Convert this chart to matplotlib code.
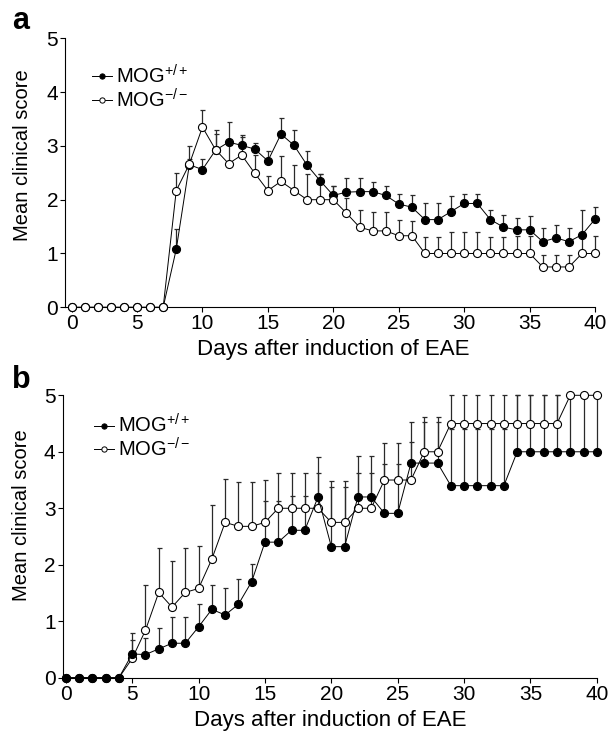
import numpy as np
import matplotlib
matplotlib.use("Agg")
import matplotlib.pyplot as plt
from matplotlib.lines import Line2D

plt.rcParams['font.family'] = ['Liberation Sans', 'DejaVu Sans']
plt.rcParams['mathtext.fontset'] = 'custom'
plt.rcParams['mathtext.rm'] = 'Liberation Sans'
plt.rcParams['mathtext.it'] = 'Liberation Sans:italic'
plt.rcParams['mathtext.bf'] = 'Liberation Sans:bold'

# ---------------- data ----------------
days = list(range(0, 41))

# Panel a
wt_a = [0, 0, 0, 0, 0, 0, 0, 0, 1.08, 2.65, 2.56, 2.92, 3.07, 3.01, 2.94, 2.72,
        3.22, 3.01, 2.64, 2.35, 2.08, 2.14, 2.15, 2.15, 2.08, 1.92, 1.86, 1.63,
        1.63, 1.78, 1.93, 1.93, 1.63, 1.49, 1.44, 1.44, 1.22, 1.29, 1.22, 1.35, 1.64]
wt_a_err = [0, 0, 0, 0, 0, 0, 0, 0, 0.38, 0.10, 0.20, 0.30, 0.37, 0.20, 0.12, 0.19,
            0.30, 0.28, 0.27, 0.13, 0.18, 0.26, 0.25, 0.17, 0.18, 0.18, 0.23, 0.31,
            0.31, 0.28, 0.17, 0.17, 0.17, 0.23, 0.22, 0.26, 0.26, 0.24, 0.26, 0.46, 0.22]
ko_a = [0, 0, 0, 0, 0, 0, 0, 0, 2.17, 2.66, 3.35, 2.93, 2.67, 2.83, 2.49, 2.17,
        2.34, 2.17, 2.00, 2.00, 2.00, 1.75, 1.49, 1.42, 1.42, 1.33, 1.33, 1.00,
        1.00, 1.00, 1.00, 1.00, 1.00, 1.00, 1.00, 1.00, 0.75, 0.75, 0.75, 1.00, 1.00]
ko_a_err = [0, 0, 0, 0, 0, 0, 0, 0, 0.32, 0.33, 0.32, 0.36, 0.35, 0.33, 0.35, 0.27,
            0.48, 0.47, 0.47, 0.47, 0.25, 0.28, 0.32, 0.36, 0.36, 0.29, 0.27, 0.31,
            0.31, 0.40, 0.40, 0.40, 0.31, 0.31, 0.32, 0.32, 0.23, 0.23, 0.23, 0.30, 0.32]

# Panel b
wt_b = [0, 0, 0, 0, 0, 0.42, 0.41, 0.51, 0.61, 0.61, 0.90, 1.21, 1.11, 1.30, 1.70,
        2.40, 2.40, 2.61, 2.61, 3.20, 2.32, 2.32, 3.20, 3.20, 2.91, 2.91, 3.80, 3.80,
        3.80, 3.40, 3.40, 3.40, 3.40, 3.40, 4.00, 4.00, 4.00, 4.00, 4.00, 4.00, 4.00]
wt_b_err = [0, 0, 0, 0, 0, 0.25, 0.30, 0.37, 0.47, 0.47, 0.40, 0.43, 0.48, 0.44, 0.31,
            0.72, 0.72, 0.60, 0.60, 0.71, 1.05, 1.05, 0.72, 0.72, 0.88, 0.88, 0.73, 0.73,
            0.73, 1.00, 1.00, 1.00, 1.00, 1.00, 1.00, 1.00, 1.00, 1.00, 1.00, 1.00, 1.00]
ko_b = [0, 0, 0, 0, 0, 0.34, 0.84, 1.51, 1.25, 1.51, 1.58, 2.10, 2.75, 2.68, 2.68,
        2.75, 3.00, 3.00, 3.00, 3.00, 2.75, 2.75, 3.00, 3.00, 3.50, 3.50, 3.50, 4.00,
        4.00, 4.50, 4.50, 4.50, 4.50, 4.50, 4.50, 4.50, 4.50, 4.50, 5.00, 5.00, 5.00]
ko_b_err = [0, 0, 0, 0, 0, 0.46, 0.81, 0.78, 0.81, 0.78, 0.76, 0.95, 0.76, 0.79, 0.79,
            0.75, 0.62, 0.62, 0.62, 0.62, 0.74, 0.74, 0.62, 0.62, 0.66, 0.66, 0.67, 0.62,
            0.62, 0.50, 0.50, 0.50, 0.50, 0.50, 0.50, 0.50, 0.50, 0.50, 0, 0, 0]

labels = [r'MOG$^{+/+}$', r'MOG$^{-/-}$']
xticks = [0, 5, 10, 15, 20, 25, 30, 35, 40]
yticks = [0, 1, 2, 3, 4, 5]

# ---------------- figure ----------------
W, H = 610, 732
fig = plt.figure(figsize=(W / 100, H / 100), dpi=100)


def add_ax(left, right, top, bottom):
    return fig.add_axes([left / W, 1 - bottom / H, (right - left) / W, (bottom - top) / H])


ax_a = add_ax(65, 601, 38.3, 307.3)
ax_b = add_ax(62.5, 597.5, 395.3, 677.7)

ms = 5.8
panels = [
    (ax_a, wt_a, wt_a_err, ko_a, ko_a_err, False, (-0.5, 40.45), 0.566, -0.062, (0.05, 0.905), 0.05),
    (ax_b, wt_b, wt_b_err, ko_b, ko_b_err, True, (-0.25, 40.05), 0.576, -0.058, (0.058, 0.935), 0.0),
]
for ax, wt, wte, ko, koe, wt_top, xlim, ycoord, xc, lpos, lsp in panels:
    z = np.zeros(len(days))
    ax.errorbar(days, wt, yerr=[z, wte], fmt='none', ecolor='#2a2a2a',
                elinewidth=0.9, capsize=1.8, capthick=0.9, zorder=2, clip_on=False)
    ax.errorbar(days, ko, yerr=[z, koe], fmt='none', ecolor='#2a2a2a',
                elinewidth=0.9, capsize=1.8, capthick=0.9, zorder=2, clip_on=False)
    zw, zk = (4, 3) if wt_top else (3, 4)
    ax.plot(days, wt, '-o', color='black', lw=0.7, ms=ms, mfc='black',
            mec='black', mew=0.8, zorder=zw, clip_on=False)
    ax.plot(days, ko, '-o', color='black', lw=0.7, ms=ms, mfc='white',
            mec='black', mew=0.8, zorder=zk, clip_on=False)

    ax.set_xlim(*xlim)
    ax.set_ylim(0, 5)
    ax.set_xticks(xticks)
    ax.set_yticks(yticks)
    for s in ['top', 'right']:
        ax.spines[s].set_visible(False)
    for s in ['left', 'bottom']:
        ax.spines[s].set_linewidth(0.8)
    ax.spines['bottom'].set_bounds(xlim[0], 40)
    ax.tick_params(direction='out', length=3.5, width=0.8, labelsize=15, pad=1.5)
    ax.set_ylabel('Mean clinical score', fontsize=14.5)
    ax.yaxis.set_label_coords(xc, ycoord)
    ax.set_xlabel('Days after induction of EAE', fontsize=16, labelpad=4.5)

    handles = [Line2D([], [], color='black', lw=0.7, marker='o', ms=3.8, mfc='black', mec='black', mew=0.7),
               Line2D([], [], color='black', lw=0.7, marker='o', ms=3.8, mfc='white', mec='black', mew=0.7)]
    ax.legend(handles, labels, loc='upper left', bbox_to_anchor=lpos,
              frameon=False, fontsize=14.5, handlelength=1.0, handletextpad=0.2,
              labelspacing=lsp, borderaxespad=0, borderpad=0)

fig.text(12 / W, 1 - 29 / H, 'a', fontsize=22, fontweight='bold', ha='left', va='baseline')
fig.text(12 / W, 1 - 388 / H, 'b', fontsize=22, fontweight='bold', ha='left', va='baseline')

fig.savefig('out.png', dpi=100)
